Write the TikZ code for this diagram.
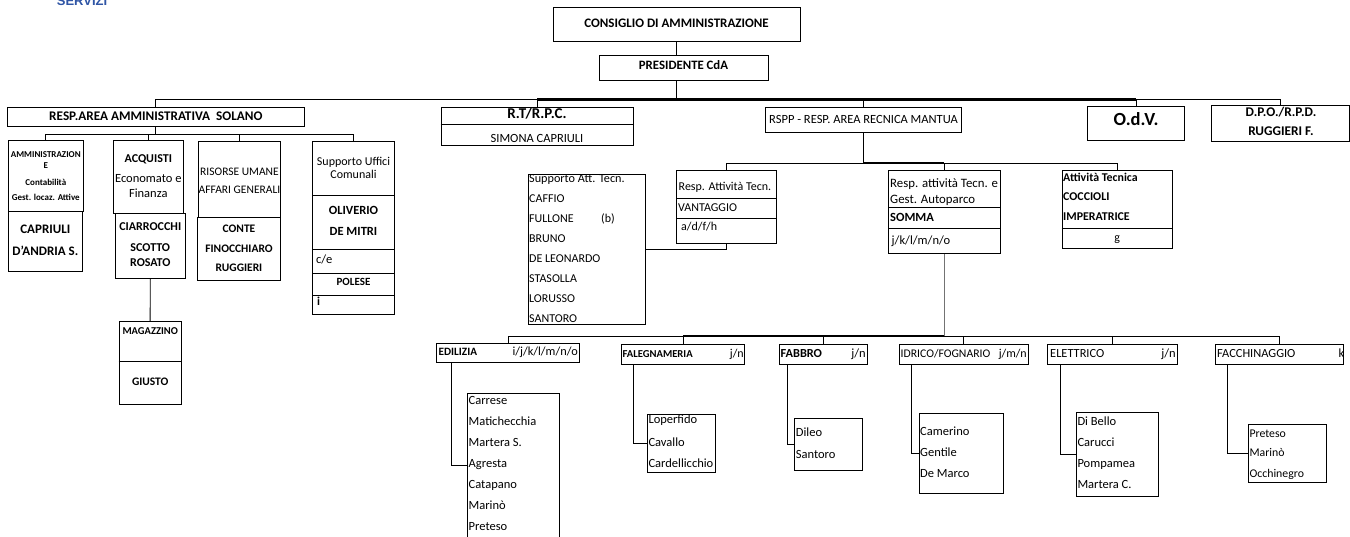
\documentclass[tikz,border=0pt]{standalone}
\usepackage{fontspec}
\setmainfont{Carlito}
\newfontfamily\servfont{Liberation Sans}
\usetikzlibrary{fit}
\definecolor{servblue}{RGB}{47,85,165}
\newcommand\myfs[1]{\fontsize{#1}{#1}\selectfont}
\tikzset{
  box/.style={draw, line width=0.9pt, inner sep=0pt},
  txt/.style={inner sep=0pt, text height=0.64em, text depth=0pt},
  tl/.style={txt, anchor=west},
  tr/.style={txt, anchor=east},
  conn/.style={line width=0.9pt},
  heavy/.style={line width=2.2pt},
  grayconn/.style={line width=1.6pt, black!55},
  B/.style={font=\bfseries\myfs{#1}},
  R/.style={font=\myfs{#1}},
}
\begin{document}
\begin{tikzpicture}[x=1pt,y=-1pt]
\useasboundingbox (0,0) rectangle (1350,536);
% ---------- SERVIZI (cut at top, as in the original)
\node[anchor=base, inner sep=0pt, text=servblue, font=\servfont\bfseries\myfs{13}] (serv) at (82,5) {SERVIZI};
% ---------- top
\node[box, fit={(553,7) (800,41)}] (cda) {};
\node[txt, B=13] (cdat) at (cda.center) {CONSIGLIO DI AMMINISTRAZIONE};
\node[box, fit={(599,55) (768,80)}] (pres) {};
\node[txt, B=12.8] (prest) at ([yshift=1pt]pres.center) {PRESIDENTE CdA};
\coordinate (colx) at (676.7,0);
% ---------- level 1 boxes
\node[box, fit={(7.7,107.3) (304,126.3)}] (ra) {};
\node[txt, B=13.2] (rat1) at (ra.center) {RESP.AREA AMMINISTRATIVA\ \ SOLANO};
\node[box, fit={(441,107) (633,145)}] (rt) {};
\draw[conn] (rt.west |- 0,124.7) -- (rt.east |- 0,124.7);
\node[txt, B=15] (rtt1) at (537,114.8) {R.T/R.P.C.};
\node[txt, R=12.5] (rtt2) at (537,139) {SIMONA CAPRIULI};
\node[box, fit={(765.3,107.3) (961.7,132.3)}] (rspp) {};
\node[txt, R=12.5] (rsppt) at (rspp.center) {RSPP - RESP. AREA RECNICA MANTUA};
\node[box, fit={(1087.7,106) (1184.3,140.7)}] (odv) {};
\node[txt, B=18.5] (odvt) at ([yshift=1pt]odv.center) {O.d.V.};
\node[box, fit={(1211,105) (1349,141)}] (dpo) {};
\node[txt, B=13.3] (dpot1) at (1281,113.5) {D.P.O./R.P.D.};
\node[txt, B=13.3] (dpot2) at (1281,132.5) {RUGGIERI F.};
% ---------- top bus
\coordinate (busY) at (0,99.5);
\draw[conn] (cda.south -| colx) -- (pres.north -| colx);
\draw[conn] (pres.south -| colx) -- (colx |- busY);
\draw[conn] (ra.north) -- (ra.north |- busY) -- (rt.north |- busY);
\draw[heavy] (rt.north |- busY) -- (odv.north |- busY);
\draw[conn] (odv.north |- busY) -- (dpo.north |- busY) -- (dpo.north);
\draw[conn] (rt.north) -- (rt.north |- busY);
\draw[conn] (rspp.north) -- (rspp.north |- busY);
\draw[conn] (odv.north) -- (odv.north |- busY);
% ---------- administrative area
\node[box, fit={(8.3,140.3) (83.3,211.3)}] (amm) {};
\node[txt, B=9] (ammt1) at (45.8,154.3) {AMMINISTRAZION};
\node[txt, B=9] (ammt2) at (45.8,165.7) {E};
\node[txt, B=9] (ammt3) at (45.8,182) {Contabilità};
\node[txt, B=9] (ammt4) at (45.8,197.7) {Gest. locaz. Attive};
\node[box, fit={(8.3,211.3) (82.3,271)}] (ammn) {};
\node[txt, B=13] (ammn1) at (45.3,230.7) {CAPRIULI};
\node[txt, B=13] (ammn2) at (45.3,252.3) {D'ANDRIA S.};
\node[box, fit={(113.3,140.3) (183.3,213.3)}] (acq) {};
\node[txt, B=12] (acqt1) at (148.3,159.3) {ACQUISTI};
\node[txt, R=12.5] (acqt2) at (148.3,179.3) {Economato e};
\node[txt, R=12.5] (acqt3) at (148.3,194.3) {Finanza};
\node[box, fit={(115.3,213.3) (185.3,278.3)}] (acqn) {};
\node[txt, B=12] (acqn1) at (150.3,227.7) {CIARROCCHI};
\node[txt, B=12] (acqn2) at (150.3,248.7) {SCOTTO};
\node[txt, B=12] (acqn3) at (150.3,263.7) {ROSATO};
\node[box, fit={(119,321.7) (181.3,404.3)}] (mag) {};
\draw[conn] (mag.west |- 0,361.3) -- (mag.east |- 0,361.3);
\node[txt, B=10.5] (magt1) at (150.2,331) {MAGAZZINO};
\node[txt, B=11.5] (magt2) at (150.2,382.3) {GIUSTO};
\node[box, fit={(198.3,141.3) (280.7,217.3)}] (ris) {};
\node[txt, R=11.5] (rist1) at (239.5,172) {RISORSE UMANE};
\node[txt, R=11.5] (rist2) at (239.5,190.3) {AFFARI GENERALI};
\node[box, fit={(197.3,217.3) (280.7,280)}] (risn) {};
\node[txt, B=11.5] (risn1) at (239,229.3) {CONTE};
\node[txt, B=11.5] (risn2) at (239,249) {FINOCCHIARO};
\node[txt, B=11.5] (risn3) at (239,268.7) {RUGGIERI};
\node[box, fit={(312.7,141.3) (394.3,314)}] (sup) {};
\foreach \yy in {195,249.3,273.3,295.3}
  \draw[conn] (sup.west |- 0,\yy) -- (sup.east |- 0,\yy);
\node[txt, R=12] (supt1) at (353.5,162.3) {Supporto Uffici};
\node[txt, R=12] (supt2) at (353.5,175.7) {Comunali};
\node[txt, B=12.5] (supt3) at (353.5,211.7) {OLIVERIO};
\node[txt, B=12.5] (supt4) at (353.5,232.7) {DE MITRI};
\node[tl, R=12.5] (supt5) at (316,260.7) {c/e};
\node[txt, B=11] (supt6) at (353.5,282) {POLESE};
\node[tl, B=12] (supt7) at (317,302.3) {i};
\coordinate (lbY) at (0,134);
\draw[conn] (ra.south) -- (ra.south |- lbY);
\draw[conn] (amm.north) -- (amm.north |- lbY) -- (sup.north |- lbY) -- (sup.north);
\draw[conn] (acq.north) -- (acq.north |- lbY);
\draw[conn] (ris.north) -- (ris.north |- lbY);
\draw[conn] (acqn.south) -- (mag.north);
% ---------- technical area
\node[box, fit={(676.7,170.7) (776,243.3)}] (rat) {};
\draw[conn] (rat.west |- 0,198.7) -- (rat.east |- 0,198.7);
\draw[conn] (rat.west |- 0,218.3) -- (rat.east |- 0,218.3);
\node[tl, R=12] (ratt1) at (678.5,187) {Resp. Attività Tecn.};
\node[tl, R=12] (ratt2) at (678,208) {VANTAGGIO};
\node[tl, R=12] (ratt3) at (681,227.5) {a/d/f/h};
\node[box, fit={(528.3,174.3) (645.7,324)}] (sat) {};
\node[tl, R=12.2] (satt1) at (529,179.3) {Supporto Att. Tecn.};
\node[tl, R=12] (satt2) at (529,199) {CAFFIO};
\node[tl, R=12] (satt3) at (529,219) {FULLONE};
\node[tl, R=12] (satt3b) at (601,219) {(b)};
\node[tl, R=12] (satt4) at (529,239) {BRUNO};
\node[tl, R=12] (satt5) at (529,259) {DE LEONARDO};
\node[tl, R=12] (satt6) at (529,279) {STASOLLA};
\node[tl, R=12] (satt7) at (529,299) {LORUSSO};
\node[tl, R=12] (satt8) at (529,319) {SANTORO};
\node[box, fit={(888.7,170) (1000,253.3)}] (rag) {};
\draw[conn] (rag.west |- 0,207.3) -- (rag.east |- 0,207.3);
\draw[conn] (rag.west |- 0,228.3) -- (rag.east |- 0,228.3);
\node[tl, R=12.8] (ragt1) at (890,184.3) {Resp. attività Tecn. e};
\node[tl, R=12.8] (ragt2) at (890,200) {Gest. Autoparco};
\node[tl, B=12.5] (ragt3) at (890,218.7) {SOMMA};
\node[tl, R=12.5] (ragt4) at (891.5,241) {j/k/l/m/n/o};
\node[box, fit={(1062,170) (1172.7,248.3)}] (atec) {};
\draw[conn] (atec.west |- 0,228.3) -- (atec.east |- 0,228.3);
\node[tl, B=11.9] (atect1) at (1063,178.5) {Attività Tecnica};
\node[tl, B=11.9] (atect2) at (1063,197.5) {COCCIOLI};
\node[tl, B=11.9] (atect3) at (1063,217.5) {IMPERATRICE};
\node[txt, R=12] (atect4) at (1117.3,238.5) {g};
\coordinate (rbY) at (0,163);
\draw[conn] (rspp.south) -- (rspp.south |- rbY);
\draw[conn] (rat.north) -- (rat.north |- rbY) -- (rspp.south |- rbY);
\draw[heavy] (rspp.south |- rbY) -- (rag.north |- rbY);
\draw[conn] (rag.north |- rbY) -- (atec.north |- rbY) -- (atec.north);
\draw[conn] (rag.north) -- (rag.north |- rbY);
\draw[conn] (rat.south) |- (sat.east |- 0,249);
% ---------- services level
\node[box, fit={(436.7,343.3) (579.3,362.3)}] (edil) {};
\node[tl, B=11.2] (edilt1) at (438.5,352.5) {EDILIZIA};
\node[tr, R=12.3] (edilt2) at (578,352.5) {i/j/k/l/m/n/o};
\node[box, fit={(621.3,344) (744.7,364.3)}] (fal) {};
\node[tl, B=10.6] (falt1) at (622.5,354) {FALEGNAMERIA};
\node[tr, R=12] (falt2) at (744,354) {j/n};
\node[box, fit={(779.3,344) (867.3,364.3)}] (fab) {};
\node[tl, B=12.3] (fabt1) at (780.5,354) {FABBRO};
\node[tr, R=12.5] (fabt2) at (866,354) {j/n};
\node[box, fit={(899.3,344) (1028,364.3)}] (idr) {};
\node[tl, R=11.7] (idrt1) at (900.5,354) {IDRICO/FOGNARIO};
\node[tr, R=12] (idrt2) at (1027,354) {j/m/n};
\node[box, fit={(1047.3,344) (1177.3,364.3)}] (ele) {};
\node[tl, R=12.4] (elet1) at (1050,354) {ELETTRICO};
\node[tr, R=12.5] (elet2) at (1176,354) {j/n};
\node[box, fit={(1215.3,344) (1343.3,364.3)}] (fac) {};
\node[tl, R=12.4] (fact1) at (1217,354) {FACCHINAGGIO};
\node[tr, R=12.5] (fact2) at (1344.5,354) {k};
\coordinate (lwY) at (0,336);
\draw[grayconn] (rag.south) -- (rag.south |- lwY);
\draw[conn] (edil.north) -- (edil.north |- lwY) -- (fal.north |- lwY);
\draw[heavy] (fal.north |- lwY) -- (rag.south |- lwY);
\draw[conn] (rag.south |- lwY) -- (fac.north |- lwY) -- (fac.north);
\draw[conn] (fal.north) -- (fal.north |- lwY);
\draw[conn] (fab.north) -- (fab.north |- lwY);
\draw[conn] (idr.north) -- (idr.north |- lwY);
\draw[conn] (ele.north) -- (ele.north |- lwY);
% ---------- staff lists
\node[box, fit={(467.7,393.3) (559.3,548)}] (edl) {};
\foreach \nm/\yy [count=\i] in {Carrese/401.7, Matichecchia/422.5, Martera S./443, Agresta/464, Catapano/485, Marinò/506, Preteso/527}
  \node[tl, R=12.5] (edln\i) at (468.5,\yy) {\nm};
\draw[conn] ([xshift=15pt]edil.south west) |- (edl.west |- 0,465);
\node[box, fit={(647.3,414.3) (715.3,472.3)}] (fall) {};
\node[tl, R=12.5] (falln1) at (648.3,420.7) {Loperfido};
\node[tl, R=12.5] (falln2) at (648.3,443.3) {Cavallo};
\node[tl, R=12.5] (falln3) at (648.3,464.3) {Cardellicchio};
\draw[conn] ([xshift=12.4pt]fal.south west) |- (fall.west |- 0,443.3);
\node[box, fit={(794.7,418.3) (862,470.3)}] (fabl) {};
\node[tl, R=12.5] (fabln1) at (795.7,433.7) {Dileo};
\node[tl, R=12.5] (fabln2) at (795.7,455.7) {Santoro};
\draw[conn] ([xshift=8.4pt]fab.south west) |- (fabl.west |- 0,444.3);
\node[box, fit={(919,413.3) (1003.3,493.3)}] (idrl) {};
\node[tl, R=12.5] (idrln1) at (920,432.3) {Camerino};
\node[tl, R=12.5] (idrln2) at (920,453.3) {Gentile};
\node[tl, R=12.5] (idrln3) at (920,474.3) {De Marco};
\draw[conn] ([xshift=12.7pt]idr.south west) |- (idrl.west |- 0,453.3);
\node[box, fit={(1076.3,412.3) (1158.3,496)}] (elel) {};
\node[tl, R=12.5] (eleln1) at (1077.3,422.3) {Di Bello};
\node[tl, R=12.5] (eleln2) at (1077.3,443.3) {Carucci};
\node[tl, R=12.5] (eleln3) at (1077.3,464.3) {Pompamea};
\node[tl, R=12.5] (eleln4) at (1077.3,485.3) {Martera C.};
\draw[conn] ([xshift=14pt]ele.south west) |- (elel.west |- 0,454.3);
\node[box, fit={(1248.3,424.3) (1326.7,482.3)}] (facl) {};
\node[tl, R=11.8] (facln1) at (1249.3,434) {Preteso};
\node[tl, R=11.8] (facln2) at (1249.3,453.7) {Marinò};
\node[tl, R=11.8] (facln3) at (1249.3,474) {Occhinegro};
\draw[conn] ([xshift=13pt]fac.south west) |- (facl.west |- 0,453.3);
\end{tikzpicture}
\end{document}
